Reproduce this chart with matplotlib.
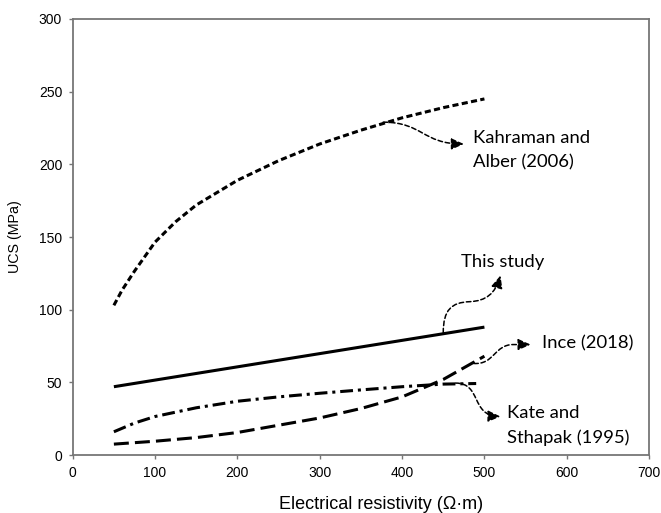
import matplotlib
matplotlib.use('Agg')
import matplotlib.pyplot as plt
from matplotlib.path import Path
from matplotlib.patches import FancyArrowPatch

# Values
x_kahraman = [50, 60, 75, 100, 125, 150, 200, 250, 300, 350, 400, 450, 500]
y_kahraman = [103, 113.5, 126.5, 146.5, 160.5, 172, 189, 202.5, 214, 223.5, 232, 239, 245]

x_this = [50, 500]
y_this = [47, 88]

x_ince = [50, 100, 150, 200, 250, 300, 350, 400, 450, 500]
y_ince = [7.5, 9.5, 12, 15.5, 20.5, 25.5, 32, 40, 52, 68]

x_kate = [50, 75, 100, 150, 200, 250, 300, 350, 400, 450, 490]
y_kate = [16, 22, 26.5, 32.5, 37, 40, 42.5, 44.8, 47, 48.8, 49.2]

x_ticks = [0, 100, 200, 300, 400, 500, 600, 700]
y_ticks = [0, 50, 100, 150, 200, 250, 300]

axis_font = 'Liberation Sans'
note_font = 'Lato'
spine_grey = '#767676'

fig = plt.figure(figsize=(6.61, 5.13), dpi=100)
ax = fig.add_axes([0.110, 0.113, 0.872, 0.850])

lw = 2.2
ax.plot(x_kahraman, y_kahraman, color='black', lw=lw, linestyle=(0, (2.0, 1.1)))
ax.plot(x_this, y_this, color='black', lw=lw, solid_capstyle='butt')
ax.plot(x_ince, y_ince, color='black', lw=lw, linestyle=(0, (4.9, 2.0)))
ax.plot(x_kate, y_kate, color='black', lw=lw, linestyle=(0, (4.2, 1.6, 1.0, 1.6)))

ax.set_xlim(0, 700)
ax.set_ylim(0, 300)
ax.set_xticks(x_ticks)
ax.set_yticks(y_ticks)
ax.tick_params(direction='out', length=3.1, width=1.0, color=spine_grey,
               labelsize=10, pad=4.5)
for lab in ax.get_xticklabels() + ax.get_yticklabels():
    lab.set_fontfamily(axis_font)
for sp in ax.spines.values():
    sp.set_color(spine_grey)
    sp.set_linewidth(1.3)

ax.set_xlabel('Electrical resistivity (\u03a9\u00b7m)', fontsize=13,
              fontfamily=axis_font)
ax.xaxis.set_label_coords(0.535, -0.094)
ax.set_ylabel('UCS (MPa)', fontsize=10.3, fontfamily=axis_font)
ax.yaxis.set_label_coords(-0.088, 0.5)

# curly dashed pointers from the curves to their labels
C = Path.CURVE4
pointers = [
    ([(377, 229), (425, 229), (425, 214), (475, 214)],
     [Path.MOVETO, C, C, C]),
    ([(450, 84), (450, 100), (460, 105), (482, 105.5),
      (502, 106), (513, 111), (519.5, 123.5)],
     [Path.MOVETO, C, C, C, C, C, C]),
    ([(487, 63), (512, 62), (512, 76), (535, 76), (556, 76)],
     [Path.MOVETO, C, C, C, Path.LINETO]),
    ([(465, 49.5), (497, 49.5), (483, 27), (519.5, 26.5)],
     [Path.MOVETO, C, C, C]),
]
for verts, codes in pointers:
    arr = FancyArrowPatch(path=Path(verts, codes),
                          arrowstyle='-|>,head_length=0.75,head_width=0.34',
                          mutation_scale=10, color='black', lw=1.1,
                          linestyle=(0, (3, 1.8)))
    ax.add_patch(arr)

# va='baseline' puts the last line of each label on the given y
note_kw = dict(fontsize=13.3, fontfamily=note_font, color='black',
               ha='left', va='baseline', linespacing=1.65)
ax.text(486, 198, 'Kahraman and\nAlber (2006)', **note_kw)
ax.text(471.7, 129.4, 'This study', **note_kw)
ax.text(569.7, 73.6, 'Ince (2018)', **note_kw)
ax.text(527, 8.1, 'Kate and\nSthapak (1995)', **note_kw)

plt.savefig('out.png', dpi=100)
